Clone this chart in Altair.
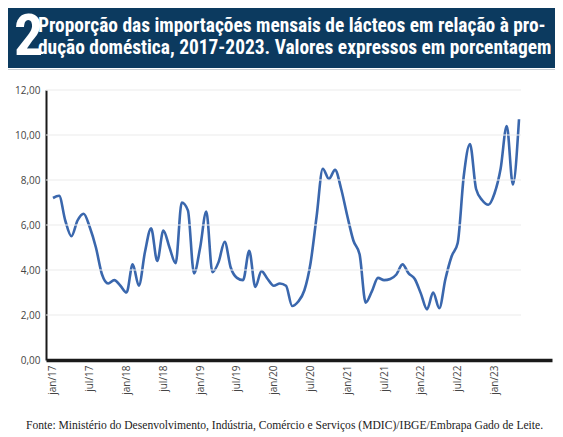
import altair as alt
import pandas as pd

# Monthly share (%) of dairy imports relative to domestic production, jan/2017 .. may/2023
values = [7.2, 7.3, 6.2, 5.5, 6.2, 6.5, 5.9, 5.0, 3.8, 3.4, 3.55, 3.3,
          3.0, 4.25, 3.3, 4.8, 5.85, 4.4, 5.75, 5.0, 4.3, 7.0, 6.65, 3.85,
          5.0, 6.6, 3.9, 4.35, 5.25, 4.1, 3.65, 3.55, 4.85, 3.25, 3.95, 3.6,
          3.3, 3.4, 3.3, 2.4, 2.6, 3.1, 4.3, 6.4, 8.5, 8.05, 8.45, 7.6,
          6.4, 5.3, 4.7, 2.55, 3.05, 3.65, 3.55, 3.6, 3.8, 4.25, 3.85, 3.6,
          2.95, 2.25, 3.0, 2.3, 3.6, 4.6, 5.2, 8.2, 9.6, 7.6, 7.1, 6.9,
          7.4, 8.5, 10.4, 7.8, 10.7]
month_index = list(range(len(values)))

tick_months = [0, 6, 12, 18, 24, 30, 36, 42, 48, 54, 60, 66, 72]
tick_labels = ["jan/17", "jul/17", "jan/18", "jul/18", "jan/19", "jul/19", "jan/20",
               "jul/20", "jan/21", "jul/21", "jan/22", "jul/22", "jan/23"]
y_ticks = [0, 2, 4, 6, 8, 10, 12]
grid_values = [2, 4, 6, 8, 10, 12]

number = "2"
title_line1 = "Proporção das importações mensais de lácteos em relação à pro-"
title_line2 = "dução doméstica, 2017-2023. Valores expressos em porcentagem"
source = "Fonte: Ministério do Desenvolvimento, Indústria, Comércio e Serviços (MDIC)/IBGE/Embrapa Gado de Leite."

df = pd.DataFrame({"m": month_index, "v": values})

W, H = 506, 270
NAVY = "#0c3a5f"
TITLE_FONT = "Liberation Sans Narrow, Arial Narrow, Roboto Condensed, Noto Sans Condensed, DejaVu Sans Condensed, sans-serif"
xscale = alt.Scale(domain=[-1.14, 81.38], nice=False, zero=False)
yscale = alt.Scale(domain=[0, 12], nice=False)

label_expr = "[" + ",".join(f"'{l}'" for l in tick_labels) + "][round(datum.value/6)]"

line = alt.Chart(df).mark_line(
    color="#3a67ad", strokeWidth=2.6, interpolate="monotone"
).encode(
    x=alt.X("m:Q", scale=xscale, title=None,
            axis=alt.Axis(values=tick_months, labelExpr=label_expr, labelAngle=-90,
                          ticks=False, grid=False, labelPadding=5,
                          domainColor="#1a1a1a", domainWidth=3.5,
                          labelFont="Open Sans", labelFontSize=10, labelColor="#444444")),
    y=alt.Y("v:Q", scale=yscale, title=None,
            axis=alt.Axis(values=y_ticks,
                          labelExpr="replace(format(datum.value, '.2f'), '.', ',')",
                          ticks=False, grid=False, labelPadding=6,
                          domainColor="#1a1a1a", domainWidth=2,
                          labelFont="Open Sans", labelFontSize=10, labelColor="#444444")),
)

grid = alt.Chart(pd.DataFrame({"g": grid_values})).mark_rule(
    color="#ebebeb", strokeWidth=1
).encode(
    y=alt.Y("g:Q", scale=yscale, title=None),
    x=alt.value(0), x2=alt.value(475),
)

one = pd.DataFrame({"k": [0]})

bar = alt.Chart(one).mark_rect(color=NAVY).encode(
    x=alt.value(-38), x2=alt.value(509), y=alt.value(-82), y2=alt.value(-22)
)
underline = alt.Chart(one).mark_rule(color="#c9ced3", strokeWidth=1.2).encode(
    x=alt.value(-38), x2=alt.value(509), y=alt.value(-20.5)
)

num = alt.Chart(pd.DataFrame({"t": [number]})).mark_text(
    font=TITLE_FONT, fontWeight="bold", fontSize=58, color="white",
    align="left", baseline="alphabetic"
).encode(x=alt.value(-32), y=alt.value(-35), text="t:N")

t1 = alt.Chart(pd.DataFrame({"t": [title_line1]})).mark_text(
    font=TITLE_FONT, fontWeight="bold", fontSize=19.4, color="white",
    align="left", baseline="alphabetic"
).encode(x=alt.value(-8), y=alt.value(-58), text="t:N")

t2 = alt.Chart(pd.DataFrame({"t": [title_line2]})).mark_text(
    font=TITLE_FONT, fontWeight="bold", fontSize=19.4, color="white",
    align="left", baseline="alphabetic"
).encode(x=alt.value(-8), y=alt.value(-36), text="t:N")

src = alt.Chart(pd.DataFrame({"t": [source]})).mark_text(
    font="Liberation Serif, DejaVu Serif, serif", fontSize=11.6, color="#222222",
    align="left", baseline="alphabetic"
).encode(x=alt.value(-20), y=alt.value(339), text="t:N")

chart = alt.layer(line, grid, bar, underline, num, t1, t2, src).properties(
    width=W, height=H,
    autosize=alt.AutoSizeParams(type="none"),
    padding={"left": 38, "top": 82, "right": 3, "bottom": 77},
).configure_view(stroke=None)

chart.save("out.html", embed_options={"renderer": "svg", "actions": False})
